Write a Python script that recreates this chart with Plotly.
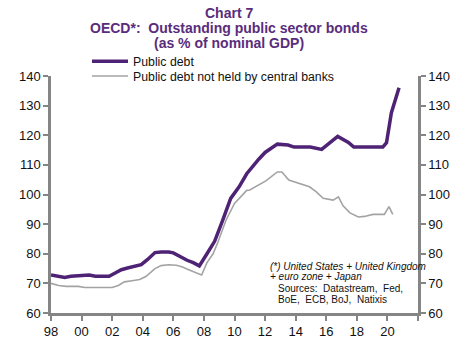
import plotly.graph_objects as go

# ---- data ----
debt_years = [1998.0, 1998.5, 1998.9, 1999.3, 1999.8, 2000.2, 2000.5, 2000.9, 2001.5, 2001.8,
              2002.2, 2002.6, 2003.0, 2003.5, 2003.9, 2004.3, 2004.8, 2005.2, 2005.7, 2006.0,
              2006.5, 2006.9, 2007.3, 2007.7, 2008.2, 2008.7, 2009.2, 2009.75, 2010.3, 2010.8,
              2011.6, 2012.0, 2012.8, 2013.5, 2013.9, 2014.95, 2015.7, 2016.25, 2016.75, 2017.45,
              2017.8, 2019.7, 2019.94, 2020.26, 2020.76]
debt_vals = [72.8, 72.5, 72.0, 72.4, 72.6, 72.9, 72.8, 72.4, 72.4, 72.4,
             73.5, 74.6, 75.2, 75.9, 76.3, 78.0, 80.4, 80.6, 80.6, 80.3,
             78.8, 77.8, 77.0, 75.9, 80.0, 84.2, 90.9, 98.7, 102.6, 107.0,
             112.0, 114.2, 117.0, 116.7, 116.0, 116.0, 115.2, 117.6, 119.6, 117.6,
             116.0, 116.0, 117.5, 127.6, 136.0]

nocb_years = [1998.0, 1998.5, 1999.0, 1999.8, 2000.2, 2001.0, 2002.0, 2002.4, 2002.8, 2003.3,
              2003.8, 2004.2, 2004.8, 2005.2, 2005.7, 2006.2, 2006.6, 2007.0, 2007.5, 2007.85,
              2008.2, 2008.6, 2008.9, 2009.45, 2010.0, 2010.8, 2011.0, 2011.7, 2012.05, 2012.8,
              2013.1, 2013.55, 2014.25, 2014.9, 2015.35, 2015.8, 2016.45, 2016.8, 2017.1, 2017.55,
              2018.1, 2018.5, 2019.05, 2019.8, 2020.1, 2020.35]
nocb_vals = [70.0, 69.3, 69.0, 69.0, 68.6, 68.6, 68.6, 69.3, 70.5, 70.9,
             71.3, 72.3, 75.0, 76.0, 76.3, 76.1, 75.5, 74.6, 73.5, 72.8,
             77.0, 80.0, 83.7, 91.4, 97.0, 101.4, 101.5, 103.5, 104.6, 107.6,
             107.6, 104.9, 103.7, 102.6, 100.9, 98.7, 98.1, 99.2, 96.2, 93.8,
             92.4, 92.6, 93.3, 93.3, 95.9, 93.3]

x_tickvals = [1998, 2000, 2002, 2004, 2006, 2008, 2010, 2012, 2014, 2016, 2018, 2020, 2022]
x_ticktext = ["98", "00", "02", "04", "06", "08", "10", "12", "14", "16", "18", "20", ""]
y_tickvals = [60, 70, 80, 90, 100, 110, 120, 130, 140]

title_lines = ["Chart 7", "OECD*:  Outstanding public sector bonds", "(as % of nominal GDP)"]

PURPLE = "#4E2274"
GREY = "#A3A3A3"
AXIS = "#858585"
TITLE_C = "#5A2C7C"
FONT = "Liberation Sans, Arial, sans-serif"

L, R, T, B = 51, 58, 76, 35
PW, PH = 476 - L - R, 351 - T - B


def px_x(p):
    return (p - L) / PW


def px_y(p):
    return (351 - B - p) / PH


fig = go.Figure()
fig.add_trace(go.Scatter(x=debt_years, y=debt_vals, mode="lines", name="Public debt",
                         line=dict(color=PURPLE, width=3.5), legend="legend"))
fig.add_trace(go.Scatter(x=nocb_years, y=nocb_vals, mode="lines",
                         name="Public debt not held by central banks",
                         line=dict(color=GREY, width=1.6), yaxis="y2", legend="legend2"))

axis_common = dict(showgrid=False, zeroline=False, showline=True, linecolor=AXIS, linewidth=2.5,
                   ticks="outside", ticklen=5, tickwidth=1.5, tickcolor=AXIS,
                   tickfont=dict(family=FONT, size=13, color="#111111"))

legend_common = dict(xanchor="left", yanchor="middle", orientation="v",
                     font=dict(family=FONT, size=12.3, color="#111111"),
                     bgcolor="rgba(0,0,0,0)", itemwidth=36)

fig.update_layout(
    width=476, height=351,
    margin=dict(l=L, r=R, t=T, b=B),
    paper_bgcolor="white", plot_bgcolor="white",
    showlegend=True,
    legend=dict(x=px_x(87), y=px_y(61), **legend_common),
    legend2=dict(x=px_x(87), y=px_y(76), **legend_common),
    xaxis=dict(range=[1998, 2022], tickvals=x_tickvals, ticktext=x_ticktext, **axis_common),
    yaxis=dict(range=[60, 140], tickvals=y_tickvals, **axis_common),
    yaxis2=dict(range=[60, 140], tickvals=y_tickvals, overlaying="y", side="right", **axis_common),
)

for txt, py in zip(title_lines, [12, 27.5, 43]):
    fig.add_annotation(text="<b>" + txt + "</b>", xref="paper", yref="paper",
                       x=px_x(229), y=px_y(py), xanchor="center", yanchor="middle",
                       showarrow=False, font=dict(family=FONT, size=14, color=TITLE_C))

notes = [
    ("<i>(*) United States + United Kingdom</i>", 268, 269),
    ("<i>+ euro zone + Japan</i>", 268, 279.5),
    ("Sources:  Datastream,  Fed,", 276, 291.5),
    ("BoE,  ECB, BoJ,  Natixis", 276, 302),
]
for txt, nx, ny in notes:
    fig.add_annotation(text=txt, xref="paper", yref="paper",
                       x=px_x(nx), y=px_y(ny),
                       xanchor="left", yanchor="middle", showarrow=False,
                       font=dict(family=FONT, size=10, color="#111111"))

fig.write_html("out.html")
